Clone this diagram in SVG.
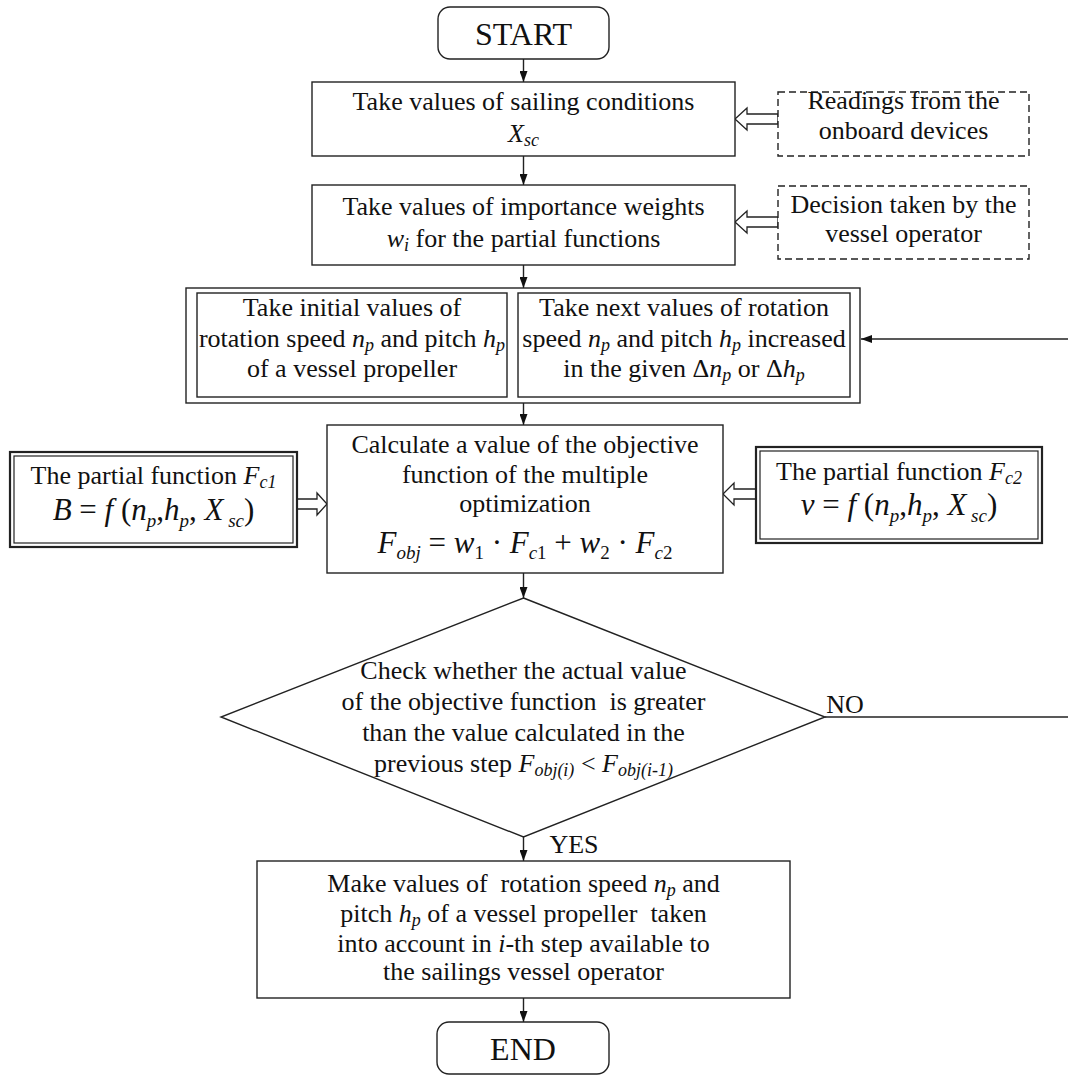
<svg xmlns="http://www.w3.org/2000/svg" width="1068" height="1077" viewBox="0 0 1068 1077">
<defs>
<marker id="ah" markerWidth="12" markerHeight="8" refX="11" refY="4" orient="auto" markerUnits="userSpaceOnUse"><path d="M0,0 L11,4 L0,8 z" fill="#111"/></marker>
<style>
text{font-family:"Liberation Serif","Times New Roman",serif;font-size:26px;fill:#111;text-anchor:middle}
.big{font-size:32px}
.eq{font-size:31px}
.it{font-style:italic}
.box{fill:#fff;stroke:#222;stroke-width:1.4}
.dash{fill:#fff;stroke:#222;stroke-width:1.4;stroke-dasharray:7,4}
.thick{fill:#fff;stroke:#222;stroke-width:2.2}
.thin{fill:none;stroke:#222;stroke-width:1.2}
.hollow{fill:#fff;stroke:#222;stroke-width:1.3}
.conn{stroke:#222;stroke-width:1.4;fill:none}
.pre{white-space:pre}
</style>
</defs>
<rect width="1068" height="1077" fill="#fff"/>

<g id="connectors">
<line class="conn" x1="523.5" y1="59" x2="523.5" y2="82" marker-end="url(#ah)"/>
<line class="conn" x1="523.5" y1="156" x2="523.5" y2="185" marker-end="url(#ah)"/>
<line class="conn" x1="523.5" y1="265" x2="523.5" y2="288" marker-end="url(#ah)"/>
<line class="conn" x1="523.5" y1="403" x2="523.5" y2="425" marker-end="url(#ah)"/>
<line class="conn" x1="523.5" y1="573" x2="523.5" y2="598" marker-end="url(#ah)"/>
<line class="conn" x1="523.5" y1="837" x2="523.5" y2="861" marker-end="url(#ah)"/>
<line class="conn" x1="523.5" y1="998" x2="523.5" y2="1022" marker-end="url(#ah)"/>
<line class="conn" x1="1068" y1="339" x2="861" y2="339" marker-end="url(#ah)"/>
<line class="conn" x1="825" y1="717" x2="1068" y2="717"/>
<polygon class="hollow" points="778,114 747,114 747,108 735,119 747,130 747,124 778,124"/>
<polygon class="hollow" points="778,217 747,217 747,211 735,222 747,233 747,227 778,227"/>
<polygon class="hollow" points="297,499 317,499 317,493 327,504 317,515 317,509 297,509"/>
<polygon class="hollow" points="756,489 734,489 734,483 723,494 734,505 734,499 756,499"/>
<text x="845" y="713">NO</text>
<text x="574" y="853">YES</text>
</g>

<g id="start">
<rect class="box" x="438" y="7" width="171" height="52" rx="12"/>
<text class="big" x="523.5" y="45">START</text>
</g>

<g id="sailing">
<rect class="box" x="312" y="82" width="423" height="74"/>
<text x="523.5" y="110">Take values of sailing conditions</text>
<text x="523.5" y="142"><tspan class="it">X</tspan><tspan class="it" font-size="18" dy="4">sc</tspan></text>
</g>

<g id="readings">
<rect class="dash" x="778" y="92" width="251" height="64"/>
<text x="903.5" y="109">Readings from the</text>
<text x="903.5" y="139">onboard devices</text>
</g>

<g id="weights">
<rect class="box" x="312" y="185" width="423" height="80"/>
<text x="523.5" y="215">Take values of importance weights</text>
<text x="523.5" y="247"><tspan class="it">w</tspan><tspan class="it" font-size="18" dy="4">i</tspan><tspan dy="-4"> for the partial functions</tspan></text>
</g>

<g id="decision">
<rect class="dash" x="778" y="186" width="251" height="73"/>
<text x="903.5" y="213">Decision taken by the</text>
<text x="903.5" y="242">vessel operator</text>
</g>

<g id="values">
<rect class="box" x="186" y="288" width="674" height="115"/>
<rect class="box" x="197" y="293" width="310" height="104"/>
<rect class="box" x="518" y="293" width="332" height="104"/>
<text x="352" y="316">Take initial values of</text>
<text x="352" y="347">rotation speed <tspan class="it">n</tspan><tspan class="it" font-size="18" dy="4">p</tspan><tspan dy="-4"> and pitch </tspan><tspan class="it">h</tspan><tspan class="it" font-size="18" dy="4">p</tspan></text>
<text x="352" y="377">of a vessel propeller</text>
<text x="684" y="316">Take next values of rotation</text>
<text x="684" y="347">speed <tspan class="it">n</tspan><tspan class="it" font-size="18" dy="4">p</tspan><tspan dy="-4"> and pitch </tspan><tspan class="it">h</tspan><tspan class="it" font-size="18" dy="4">p</tspan><tspan dy="-4"> increased</tspan></text>
<text x="684" y="377">in the given Δ<tspan class="it">n</tspan><tspan class="it" font-size="18" dy="4">p</tspan><tspan dy="-4"> or Δ</tspan><tspan class="it">h</tspan><tspan class="it" font-size="18" dy="4">p</tspan></text>
</g>

<g id="fc1">
<rect class="thick" x="10" y="452" width="287" height="95"/>
<rect class="thin" x="14" y="456" width="279" height="87"/>
<text x="153.5" y="484">The partial function <tspan class="it">F</tspan><tspan class="it" font-size="18" dy="4">c1</tspan></text>
<text class="eq pre" x="153.5" y="520"><tspan class="it">B</tspan> = <tspan class="it">f</tspan> (<tspan class="it">n</tspan><tspan class="it" font-size="19" dy="7">p</tspan><tspan dy="-7">,</tspan><tspan class="it">h</tspan><tspan class="it" font-size="19" dy="7">p</tspan><tspan dy="-7">, </tspan><tspan class="it">X</tspan><tspan class="it" font-size="19" dy="7"> sc</tspan><tspan dy="-7">)</tspan></text>
</g>

<g id="objective">
<rect class="box" x="327" y="425" width="396" height="148"/>
<text x="525" y="453">Calculate a value of the objective</text>
<text x="525" y="483">function of the multiple</text>
<text x="525" y="512">optimization</text>
<text class="eq" x="525" y="553" font-size="29"><tspan class="it">F</tspan><tspan class="it" font-size="19" dy="6">obj</tspan><tspan dy="-6"> = </tspan><tspan class="it">w</tspan><tspan font-size="19" dy="6">1</tspan><tspan dy="-6"> · </tspan><tspan class="it">F</tspan><tspan class="it" font-size="19" dy="6">c</tspan><tspan font-size="19">1</tspan><tspan dy="-6"> + </tspan><tspan class="it">w</tspan><tspan font-size="19" dy="6">2</tspan><tspan dy="-6"> · </tspan><tspan class="it">F</tspan><tspan class="it" font-size="19" dy="6">c</tspan><tspan font-size="19">2</tspan></text>
</g>

<g id="fc2">
<rect class="thick" x="756" y="447" width="286" height="96"/>
<rect class="thin" x="760" y="451" width="278" height="88"/>
<text x="899" y="480">The partial function <tspan class="it">F</tspan><tspan class="it" font-size="18" dy="4">c2</tspan></text>
<text class="eq pre" x="899" y="515"><tspan class="it">v</tspan> = <tspan class="it">f</tspan> (<tspan class="it">n</tspan><tspan class="it" font-size="19" dy="7">p</tspan><tspan dy="-7">,</tspan><tspan class="it">h</tspan><tspan class="it" font-size="19" dy="7">p</tspan><tspan dy="-7">, </tspan><tspan class="it">X</tspan><tspan class="it" font-size="19" dy="7"> sc</tspan><tspan dy="-7">)</tspan></text>
</g>

<g id="check">
<polygon class="box" points="523.5,598 825,717 523.5,837 221,717"/>
<text x="523.5" y="679">Check whether the actual value</text>
<text class="pre" x="523.5" y="710">of the objective function  is greater</text>
<text x="523.5" y="741">than the value calculated in the</text>
<text x="523.5" y="772">previous step <tspan class="it">F</tspan><tspan class="it" font-size="18" dy="4">obj(i)</tspan><tspan dy="-4"> &lt; </tspan><tspan class="it">F</tspan><tspan class="it" font-size="18" dy="4">obj(i-1)</tspan></text>
</g>

<g id="result">
<rect class="box" x="257" y="861" width="533" height="137"/>
<text class="pre" x="523.5" y="892">Make values of  rotation speed <tspan class="it">n</tspan><tspan class="it" font-size="18" dy="4">p</tspan><tspan dy="-4"> and</tspan></text>
<text class="pre" x="523.5" y="922">pitch <tspan class="it">h</tspan><tspan class="it" font-size="18" dy="4">p</tspan><tspan dy="-4"> of a vessel propeller  taken</tspan></text>
<text x="523.5" y="952">into account in <tspan class="it">i</tspan>-th step available to</text>
<text x="523.5" y="980">the sailings vessel operator</text>
</g>

<g id="end">
<rect class="box" x="437" y="1022" width="172" height="52" rx="12"/>
<text class="big" x="523" y="1060">END</text>
</g>
</svg>
